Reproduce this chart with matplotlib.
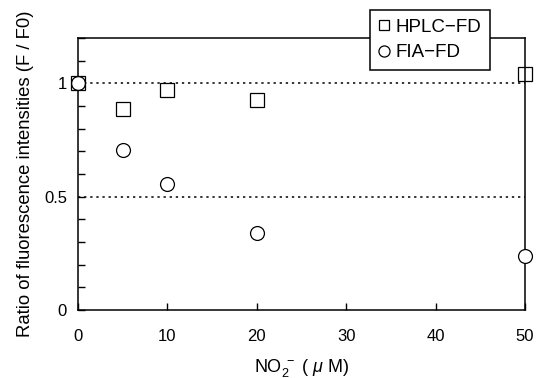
import matplotlib
matplotlib.use("Agg")
import matplotlib.pyplot as plt
from matplotlib.ticker import MultipleLocator

plt.rcParams['font.family'] = ['Liberation Sans', 'Noto Sans CJK JP', 'DejaVu Sans']
plt.rcParams['mathtext.fontset'] = 'custom'
plt.rcParams['mathtext.rm'] = 'Liberation Sans'
plt.rcParams['mathtext.it'] = 'Liberation Sans:italic'

# data
no2_um = [0, 5, 10, 20, 50]
hplc_fd = [1.0, 0.885, 0.97, 0.925, 1.04]
fia_fd = [1.0, 0.705, 0.555, 0.34, 0.238]

fig = plt.figure(figsize=(5.39, 3.78), dpi=100)
ax = fig.add_axes([78 / 539, 1 - 310 / 378, (525 - 78) / 539, (310 - 38) / 378])

ax.axhline(1.0, color='black', ls=(0, (1.5, 2.5)), lw=1.1, zorder=1)
ax.axhline(0.5, color='black', ls=(0, (1.5, 2.5)), lw=1.1, zorder=1)

ax.plot(no2_um, fia_fd, 'o', ms=10, mfc='white', mec='black', mew=0.9,
        ls='none', clip_on=False, label='FIA−FD', zorder=3)
ax.plot(no2_um, hplc_fd, 's', ms=9.5, mfc='none', mec='black', mew=0.9,
        ls='none', clip_on=False, label='HPLC−FD', zorder=4)

ax.set_xlim(0, 50)
ax.set_ylim(0, 1.2)
ax.xaxis.set_major_locator(MultipleLocator(10))
ax.set_yticks([0, 0.5, 1])
ax.set_yticklabels(['0', '0.5', '1'])
ax.yaxis.set_minor_locator(MultipleLocator(0.1))
ax.tick_params(axis='both', which='both', direction='in', labelsize=12, width=1)
ax.tick_params(axis='both', which='major', length=5)
ax.tick_params(axis='y', which='minor', length=5)
ax.tick_params(axis='x', pad=14)
ax.tick_params(axis='y', pad=8)
for s in ax.spines.values():
    s.set_linewidth(1.1)

ax.set_xlabel(r'NO$_2^{\ -}$ ( $\mu$ M)', fontsize=13, labelpad=9)
ax.set_ylabel('Ratio of fluorescence intensities (F / F0)', fontsize=13.3, labelpad=7)

h, l = ax.get_legend_handles_labels()
leg = fig.legend(h[::-1], l[::-1], loc='upper left',
                 bbox_to_anchor=(370 / 539, 1 - 10 / 378), fontsize=13.5,
                 frameon=True, fancybox=False, edgecolor='black',
                 handlelength=0.6, handletextpad=0.3, borderpad=0.45,
                 labelspacing=0.45, markerscale=0.8, borderaxespad=0)
leg.get_frame().set_linewidth(1.1)
leg.get_frame().set_facecolor('white')
leg.get_frame().set_alpha(1)

fig.savefig('out.png', dpi=100)
